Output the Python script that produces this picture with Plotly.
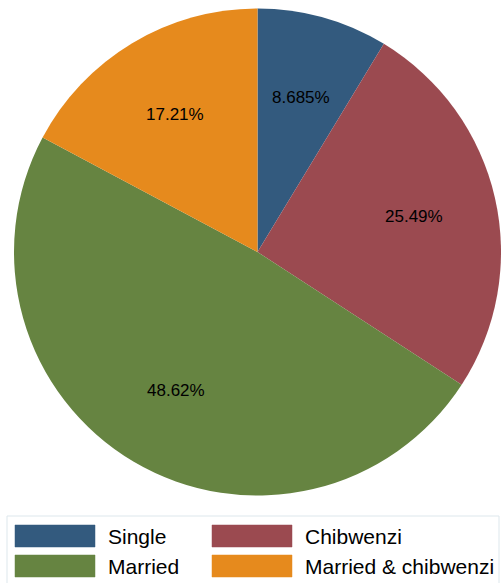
import math
import plotly.graph_objects as go

labels = ["Single", "Chibwenzi", "Married", "Married & chibwenzi"]
values = [8.685, 25.49, 48.62, 17.21]
colors = ["#335a7e", "#9b4a50", "#668441", "#e68a1d"]

W, H = 501, 583
FONT = "Liberation Sans, Arial, sans-serif"

# pie placement in pixels
px0, px1 = 14, 501
py0, py1 = 7, 497  # top, bottom

fig = go.Figure(go.Pie(
    labels=labels, values=values, sort=False, direction="clockwise", rotation=0,
    marker=dict(colors=colors, line=dict(width=0)),
    textinfo="none", hoverinfo="label+percent", showlegend=False,
    domain=dict(x=[px0 / W, px1 / W], y=[1 - py1 / H, 1 - py0 / H]),
))

# slice labels at 2/3 of the radius, from the slice mid-angle
cx = (px0 + px1) / 2
cy = (py0 + py1) / 2
r = min(px1 - px0, py1 - py0) / 2
total = sum(values)
annotations = []
cum = 0
for v in values:
    mid = (cum + v / 2) / total * 2 * math.pi
    cum += v
    x = cx + 0.66 * r * math.sin(mid)
    y = cy - 0.66 * r * math.cos(mid)
    annotations.append(dict(
        x=x / W, y=1 - y / H, xref="paper", yref="paper", showarrow=False,
        xanchor="center", yanchor="middle",
        text=f"{v:g}%", font=dict(family=FONT, size=17, color="black"),
    ))

# manual legend, two columns
shapes = [dict(type="rect", xref="paper", yref="paper",
               x0=7 / W, x1=499 / W, y0=1 - 600 / H, y1=1 - 516 / H,
               line=dict(color="#dde7ec", width=1), fillcolor="white", layer="below")]
col_x = [15, 212]
row_y = [525, 555]
for i, (lab, c) in enumerate(zip(labels, colors)):
    sx = col_x[i % 2]
    sy = row_y[i // 2]
    shapes.append(dict(type="rect", xref="paper", yref="paper",
                       x0=sx / W, x1=(sx + 80) / W, y0=1 - (sy + 22) / H, y1=1 - sy / H,
                       fillcolor=c, line=dict(color=c, width=0.5)))
    annotations.append(dict(
        x=(sx + 91) / W, y=1 - (sy + 11) / H, xref="paper", yref="paper",
        xanchor="left", yanchor="middle", showarrow=False, text=lab,
        font=dict(family=FONT, size=21, color="black"),
    ))

fig.update_layout(
    width=W, height=H, margin=dict(l=0, r=0, t=0, b=0),
    paper_bgcolor="white", plot_bgcolor="white",
    shapes=shapes, annotations=annotations,
)

fig.write_html("out.html", config={"displayModeBar": False},
               post_script="document.body.style.margin='0';document.body.style.overflow='hidden';")
